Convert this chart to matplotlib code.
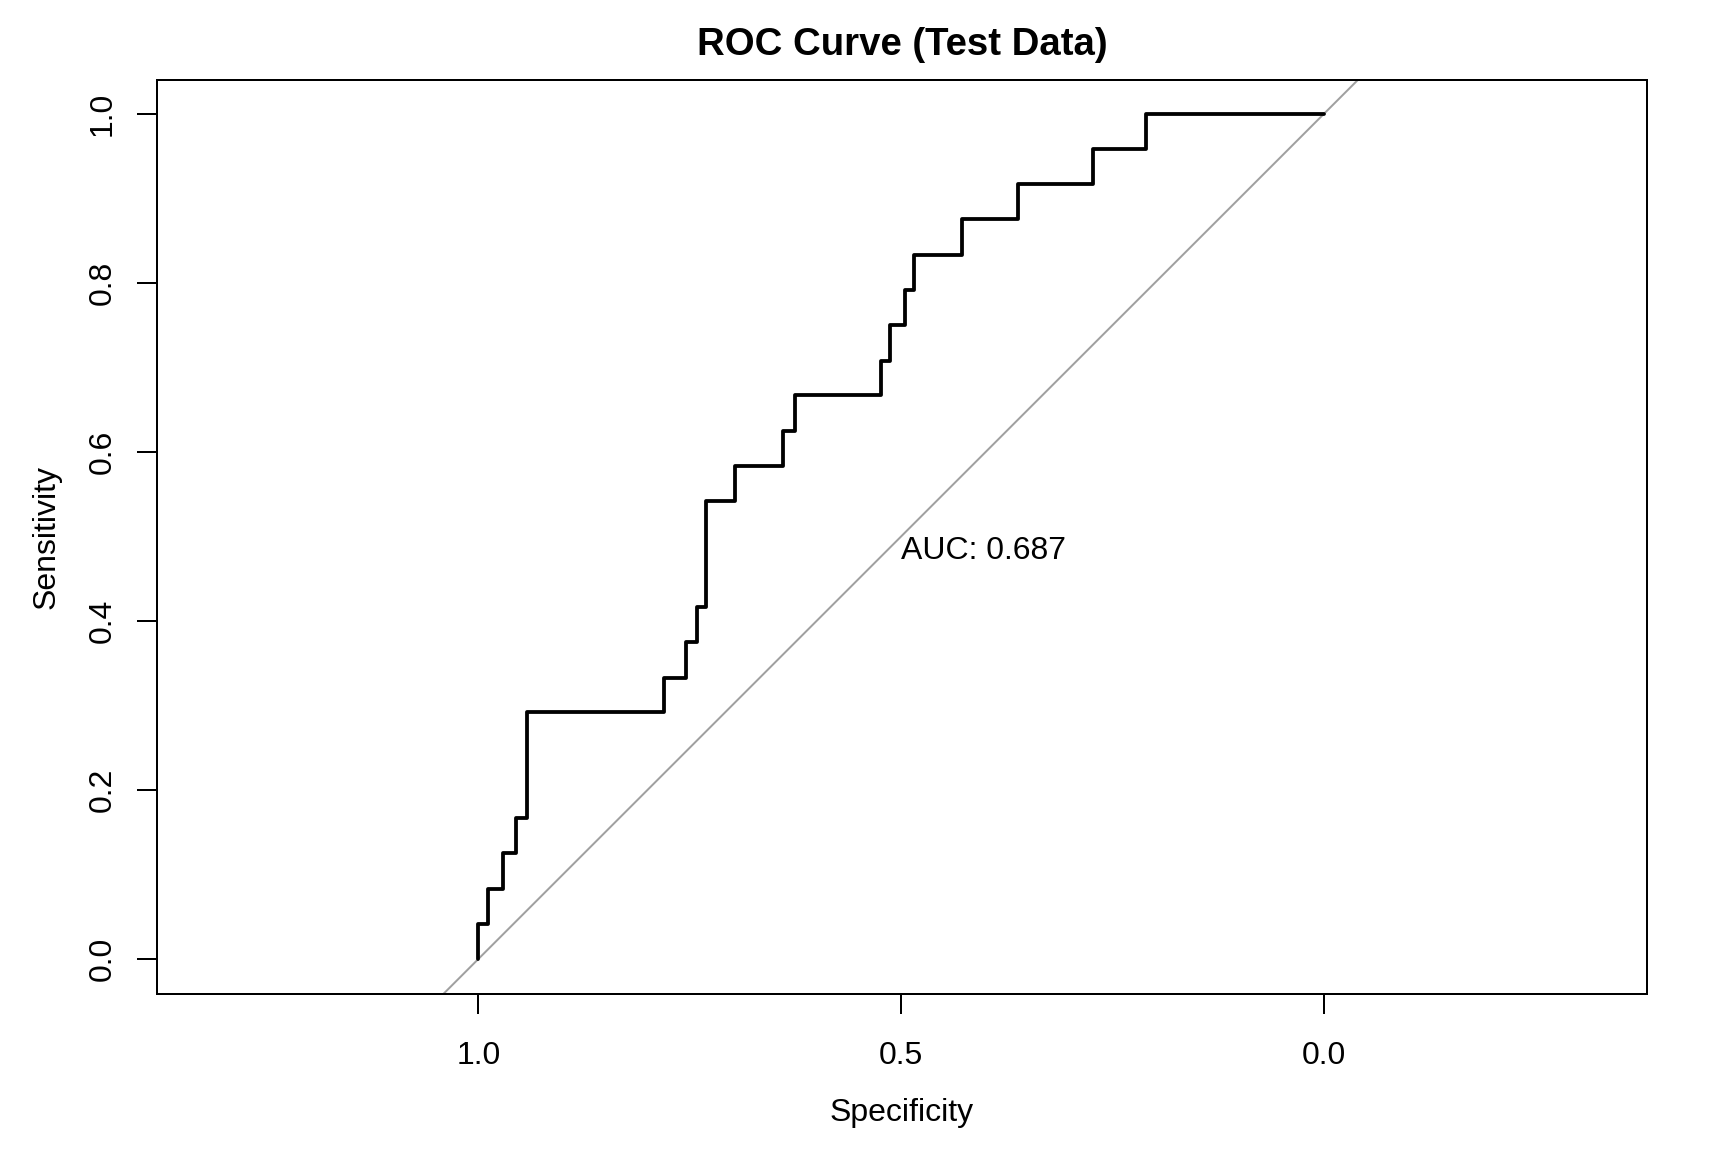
import matplotlib
matplotlib.use("Agg")
import matplotlib.pyplot as plt

plt.rcParams['font.family'] = ['Liberation Sans', 'DejaVu Sans']

# ROC curve vertices (specificity, sensitivity)
specificity = [1.000, 1.000, 0.988, 0.988, 0.971, 0.971, 0.955, 0.955, 0.943, 0.943,
               0.781, 0.781, 0.754, 0.754, 0.742, 0.742, 0.731, 0.731, 0.697, 0.697,
               0.640, 0.640, 0.625, 0.625, 0.524, 0.524, 0.513, 0.513, 0.496, 0.496,
               0.485, 0.485, 0.428, 0.428, 0.362, 0.362, 0.273, 0.273, 0.211, 0.211,
               0.000]
sensitivity = [0.000, 0.042, 0.042, 0.083, 0.083, 0.125, 0.125, 0.167, 0.167, 0.292,
               0.292, 0.333, 0.333, 0.375, 0.375, 0.417, 0.417, 0.542, 0.542, 0.583,
               0.583, 0.625, 0.625, 0.667, 0.667, 0.708, 0.708, 0.750, 0.750, 0.792,
               0.792, 0.833, 0.833, 0.875, 0.875, 0.917, 0.917, 0.958, 0.958, 1.000,
               1.000]

auc_value = 0.687
x_ticks = [1.0, 0.5, 0.0]
x_tick_labels = ["1.0", "0.5", "0.0"]
y_ticks = [0.0, 0.2, 0.4, 0.6, 0.8, 1.0]
y_tick_labels = ["0.0", "0.2", "0.4", "0.6", "0.8", "1.0"]

W, H = 1728, 1152
fig = plt.figure(figsize=(12, 8), dpi=144)
L, R, T, B = 157, 1647, 80, 994
ax = fig.add_axes([L / W, (H - B) / H, (R - L) / W, (B - T) / H])

ax.set_xlim(1.380, -0.382)
ax.set_ylim(-0.0414, 1.040)

# identity line
ax.axline((1.0, 0.0), (0.0, 1.0), color="#a0a0a0", lw=1.0, zorder=1)
# ROC curve
ax.plot(specificity, sensitivity, color="black", lw=1.9, zorder=2,
        solid_joinstyle="round", solid_capstyle="round")

ax.annotate(f"AUC: {auc_value:.3f}", xy=(0.5, 0.5), xycoords="data",
            xytext=(0.0, -11.2), textcoords="offset points",
            ha="left", va="baseline", fontsize=16)

ax.set_xticks(x_ticks)
ax.set_xticklabels(x_tick_labels)
ax.set_yticks(y_ticks)
ax.set_yticklabels(y_tick_labels, rotation=90, va="center")

for s in ax.spines.values():
    s.set_linewidth(1.0)
ax.tick_params(axis="both", direction="out", length=10, width=1.0, labelsize=16)
ax.tick_params(axis="x", pad=13.5)
ax.tick_params(axis="y", pad=9.5)

ax.set_xlabel("Specificity", fontsize=16, labelpad=13.5)
ax.set_ylabel("Sensitivity", fontsize=16, labelpad=13)
ax.set_title("ROC Curve (Test Data)", fontsize=19.2, fontweight="bold", pad=12.3)

fig.savefig("out.png", dpi=144)
